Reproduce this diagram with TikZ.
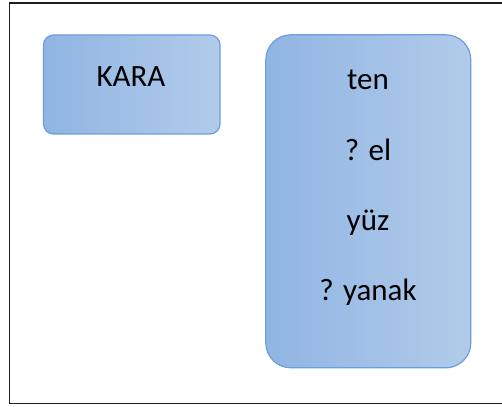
\documentclass[tikz,border=0pt]{standalone}
\usepackage{fontspec}
\setmainfont{Carlito}
\definecolor{boxL}{RGB}{144,181,226}
\definecolor{boxR}{RGB}{178,203,234}
\definecolor{boxB}{RGB}{108,158,221}
\definecolor{frameC}{RGB}{30,30,30}
\tikzset{
  panel/.style={draw=boxB, line width=1.2pt, left color=boxL, right color=boxR, shading angle=90},
  word/.style={font=\fontsize{31}{31}\selectfont, text=black, anchor=base, inner sep=0pt}
}
\begin{document}
\begin{tikzpicture}[x=1pt,y=-1pt]
\useasboundingbox (0,0) rectangle (502,406);
\draw[frameC, line width=1.6pt] (512,3) -- (9.5,3) -- (9.5,403.5) -- (512,403.5);
\path[panel, rounded corners=10pt] (43.5,35) rectangle (220,134);
\node[panel, rounded corners=25pt, inner sep=0pt, minimum width=205pt, minimum height=333pt] (list) at (368.3,201.3) {};
\node[word] (kara) at (131,86.5) {KARA};
\node[word] (ten) at (368,90) {ten};
\node[word] (el) at (368,160) {? el};
\node[word] (yuz) at (368,230) {yüz};
\node[word] (yanak) at (368,300) {? yanak};
\end{tikzpicture}
\end{document}
